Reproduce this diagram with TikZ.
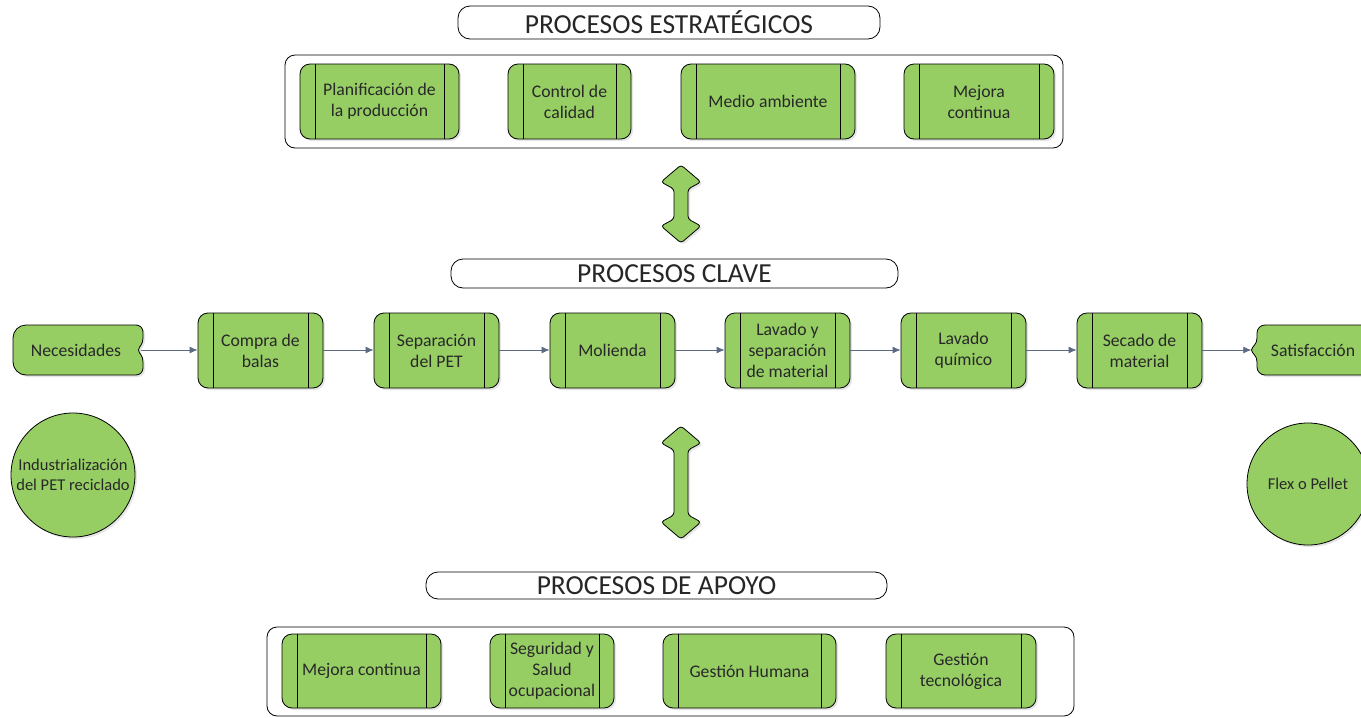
\documentclass[tikz,border=0pt]{standalone}
\usepackage{fontspec}
\setmainfont{Carlito}
\usetikzlibrary{arrows.meta,shadows}

\definecolor{procgreen}{RGB}{150,206,100}
\definecolor{linkcolor}{RGB}{92,106,132}
\definecolor{textcolor}{RGB}{40,40,40}

\tikzset{
  every node/.style={text=textcolor},
  softshadow/.style={drop shadow={shadow xshift=2pt,shadow yshift=-2pt,opacity=0.25,fill=black!40}},
  proc/.style={draw=black, line width=0.8pt, fill=procgreen, rounded corners=10pt,
    minimum height=75pt, align=center, inner sep=0pt, softshadow,
    font=\fontsize{17.7}{21}\selectfont,
    path picture={
      \draw[line width=0.8pt] ([xshift=15pt]path picture bounding box.north west)
        -- ([xshift=15pt]path picture bounding box.south west);
      \draw[line width=0.8pt] ([xshift=-15pt]path picture bounding box.north east)
        -- ([xshift=-15pt]path picture bounding box.south east);
    }},
  pill/.style={draw=black, line width=0.8pt, fill=white, rounded corners=12pt,
    font=\fontsize{27.5}{30}\selectfont, text=black!85},
  frame/.style={draw=black, line width=0.8pt, rounded corners=10pt},
  ending/.style={draw=black, line width=0.8pt, fill=procgreen, softshadow},
  globe/.style={circle, draw=black, line width=0.8pt, fill=procgreen, softshadow,
    align=center, inner sep=0pt, font=\fontsize{16.5}{20}\selectfont},
  link/.style={draw=linkcolor, line width=0.8pt, -{Latex[length=8pt,width=7pt]}},
  bigarrow/.style={draw=black, line width=0.8pt, fill=procgreen, rounded corners=3pt, softshadow}
}

% double block arrow between two heights
\newcommand{\dblarrow}[3]{%
  \path[bigarrow] (#1,#2) -- (#1+20,#2+17) -- (#1+7,#2+24) -- (#1+7,#3-24)
    -- (#1+20,#3-17) -- (#1,#3) -- (#1-20,#3-17) -- (#1-7,#3-24)
    -- (#1-7,#2+24) -- (#1-20,#2+17) -- cycle;}

\begin{document}
\begin{tikzpicture}[x=1pt,y=-1pt]
\clip (0,0) rectangle (1361,718);

% strategic processes
\node[pill, minimum width=422pt, minimum height=33pt] (titEstr) at (669,22.5) {PROCESOS ESTRATÉGICOS};
\draw[frame] (285,55) rectangle (1063,148);
\node[proc, minimum width=159pt] (plan) at (379.5,101.5) {Planificación de\\la producción};
\node[proc, minimum width=123pt] (calidad) at (569.5,101.5) {Control de\\calidad};
\node[proc, minimum width=174pt] (ambiente) at (768,101.5) {Medio ambiente};
\node[proc, minimum width=150pt] (mejora) at (979,101.5) {Mejora\\continua};

\dblarrow{681}{165}{243}

% key processes
\node[pill, minimum width=447pt, minimum height=29pt] (titClave) at (674.5,273.5) {PROCESOS CLAVE};

\path[ending] (26,325) -- (136,325) arc[start angle=-90,end angle=0,radius=7]
  -- (143,338) .. controls (143,345) and (139,346) .. (138.5,350)
  .. controls (139,354) and (143,355) .. (143,362) -- (143,368)
  arc[start angle=0,end angle=90,radius=7] -- (26,375)
  arc[start angle=90,end angle=180,radius=13] -- (13,338)
  arc[start angle=180,end angle=270,radius=13] -- cycle;
\node[minimum width=130pt, minimum height=50pt, inner sep=0pt, font=\fontsize{17.7}{21}\selectfont] (neces) at (76,350) {Necesidades};

\path[ending] (1265,325) -- (1370,325) -- (1370,375) -- (1265,375)
  arc[start angle=90,end angle=180,radius=8] -- (1257,362)
  .. controls (1257,355) and (1252,354) .. (1251.5,350)
  .. controls (1252,346) and (1257,345) .. (1257,338)
  -- (1257,333) arc[start angle=180,end angle=270,radius=8] -- cycle;
\node[minimum width=123pt, minimum height=50pt, inner sep=0pt, font=\fontsize{17.7}{21}\selectfont] (satisf) at (1313,350) {Satisfacción};

\node[proc, minimum width=125pt] (compra) at (260.5,350.5) {Compra de\\balas};
\node[proc, minimum width=125pt] (separa) at (436.5,350.5) {Separación\\del PET};
\node[proc, minimum width=125pt] (molienda) at (612.5,350.5) {Molienda};
\node[proc, minimum width=125pt] (lavado) at (787.5,350.5) {Lavado y\\separación\\de material};
\node[proc, minimum width=125pt] (quimico) at (963.5,350.5) {Lavado\\químico};
\node[proc, minimum width=125pt] (secado) at (1139.5,350.5) {Secado de\\material};

\draw[link] (neces.east) -- (compra.west |- neces.east);
\draw[link] (compra.east |- neces.east) -- (separa.west |- neces.east);
\draw[link] (separa.east |- neces.east) -- (molienda.west |- neces.east);
\draw[link] (molienda.east |- neces.east) -- (lavado.west |- neces.east);
\draw[link] (lavado.east |- neces.east) -- (quimico.west |- neces.east);
\draw[link] (quimico.east |- neces.east) -- (secado.west |- neces.east);
\draw[link] (secado.east |- neces.east) -- (satisf.west);

\node[globe, minimum size=124pt] (industria) at (73,475) {Industrialización\\del PET reciclado};
\node[globe, minimum size=122pt] (flex) at (1308,484) {Flex o Pellet};

\dblarrow{681}{426}{539}

% support processes
\node[pill, minimum width=461pt, minimum height=27pt] (titApoyo) at (656.5,585.5) {PROCESOS DE APOYO};
\draw[frame] (267,627) rectangle (1074,716);
\node[proc, minimum width=159pt, minimum height=74pt] (mejoraB) at (361.5,671) {Mejora continua};
\node[proc, minimum width=124pt, minimum height=74pt] (seguridad) at (552,671) {Seguridad y\\Salud\\ocupacional};
\node[proc, minimum width=173pt, minimum height=74pt] (humana) at (749.5,671) {Gestión Humana};
\node[proc, minimum width=150pt, minimum height=74pt] (tecno) at (961,671) {Gestión\\tecnológica};
\end{tikzpicture}
\end{document}
